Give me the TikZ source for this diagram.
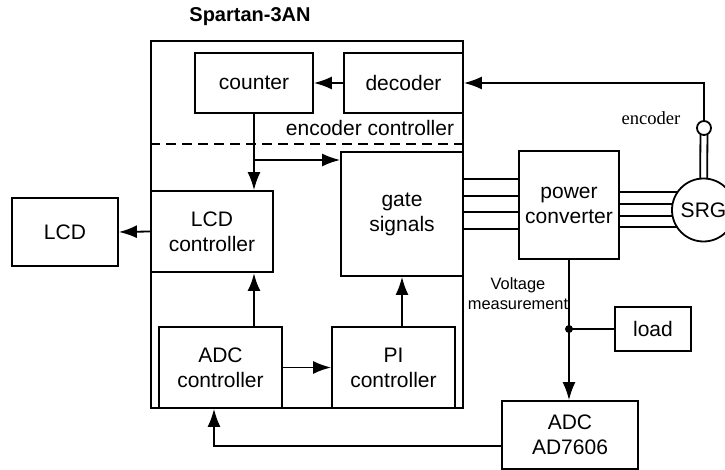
\documentclass[tikz,border=0pt]{standalone}
\usepackage{fontspec}
\setmainfont{Liberation Sans}
\newfontfamily\encfont{Liberation Serif}
\usetikzlibrary{arrows.meta,backgrounds}

\begin{document}
\begin{tikzpicture}[x=0.5pt,y=-0.5pt,
    wire/.style={line width=0.9pt},
    box/.style={draw, line width=0.9pt, fill=white, align=center, inner sep=0pt,
        font=\fontsize{10.5}{12.5}\selectfont},
    arr/.style={-{Latex[length=9pt,width=6.5pt]}}]
    \useasboundingbox (0,0) rectangle (725,470);

    % FPGA outline
    \node[draw, line width=0.9pt, minimum width=156pt, minimum height=183.5pt] (fpga) at (307,224.5) {};
    \node[font=\bfseries\fontsize{10}{12}\selectfont] (title) at (250,17) {Spartan-3AN};

    % Blocks
    \node[box, minimum width=59pt, minimum height=30pt] (counter) at (254,83) {counter};
    \node[box, minimum width=59.5pt, minimum height=30pt] (decoder) at (403.5,83) {decoder};
    \node[box, minimum width=61pt, minimum height=62pt] (gate) at (402,214) {gate\\signals};
    \node[box, minimum width=61pt, minimum height=40.5pt] (lcdctrl) at (212,231.5) {LCD\\controller};
    \node[box, minimum width=53pt, minimum height=34pt] (lcd) at (65,232) {LCD};
    \node[box, minimum width=61.5pt, minimum height=40.5pt] (adcctrl) at (220.5,367.5) {ADC\\controller};
    \node[box, minimum width=61.5pt, minimum height=40.5pt] (pictrl) at (393.5,367.5) {PI\\controller};
    \node[box, minimum width=50pt, minimum height=54pt] (power) at (569,205) {power\\converter};
    \node[box, minimum width=38pt, minimum height=22pt] (load) at (653,329) {load};
    \node[box, minimum width=68pt, minimum height=34pt] (adc) at (570,435) {ADC\\AD7606};
    \node[box, circle, minimum size=31.5pt] (srg) at (703.5,210) {SRG};
    \node[draw, circle, line width=0.9pt, fill=white, minimum size=7pt, inner sep=0pt] (enc) at (704,128) {};

    % Labels
    \node[font=\fontsize{10.5}{12.5}\selectfont] (encctrl) at (370,128) {encoder controller};
    \node[font=\fontsize{8.2}{10}\selectfont, align=center] (vmeas) at (518,294) {Voltage\\measurement};
    \node[font=\encfont\fontsize{9.3}{11}\selectfont] (enclabel) at (651,118) {encoder};

    % Dashed split inside the FPGA
    \draw[wire, dashed, dash pattern=on 5pt off 3pt] (fpga.west |- 0,144) -- (fpga.east |- 0,144);

    % Encoder path
    \draw[wire, arr] (enc.north) |- (decoder.east);
    \draw[wire, arr] (decoder.west) -- (counter.east);
    \draw[wire, arr] (counter.south) -- (counter.south |- lcdctrl.north);
    \coordinate (split) at (counter.south |- 0,160);
    \draw[wire, arr] (split) -- (gate.west |- split);

    % Power lines
    \begin{scope}[on background layer]
        \draw[wire] ([xshift=-1.75pt]enc.center) -- ([xshift=-1.75pt]srg.center);
        \draw[wire] ([xshift=1.75pt]enc.center) -- ([xshift=1.75pt]srg.center);
        \foreach \y in {192,204,216,227}
            \draw[wire] (power.east |- 0,\y) -- (srg.center |- 0,\y);
    \end{scope}
    \foreach \y in {179,196,212,229}
        \draw[wire] (gate.east |- 0,\y) -- (power.west |- 0,\y);

    % Control path
    \draw[wire, arr] (lcdctrl.west) -- (lcd.east);
    \draw[line width=1.4pt, arr] (counter.south |- adcctrl.north) -- (counter.south |- lcdctrl.south);
    \draw[wire, arr] (adcctrl.east) -- (pictrl.west);
    \draw[wire, arr] (gate.south |- pictrl.north) -- (gate.south);

    % Measurement
    \coordinate (tap) at (power.south |- load.west);
    \draw[wire, arr] (power.south) -- (power.south |- adc.north);
    \fill (tap) circle (2pt);
    \draw[wire] (tap) -- (load.west);
    \draw[wire, arr] ([yshift=-5.5pt]adc.west) -| ([xshift=-3.25pt]adcctrl.south);
\end{tikzpicture}
\end{document}
